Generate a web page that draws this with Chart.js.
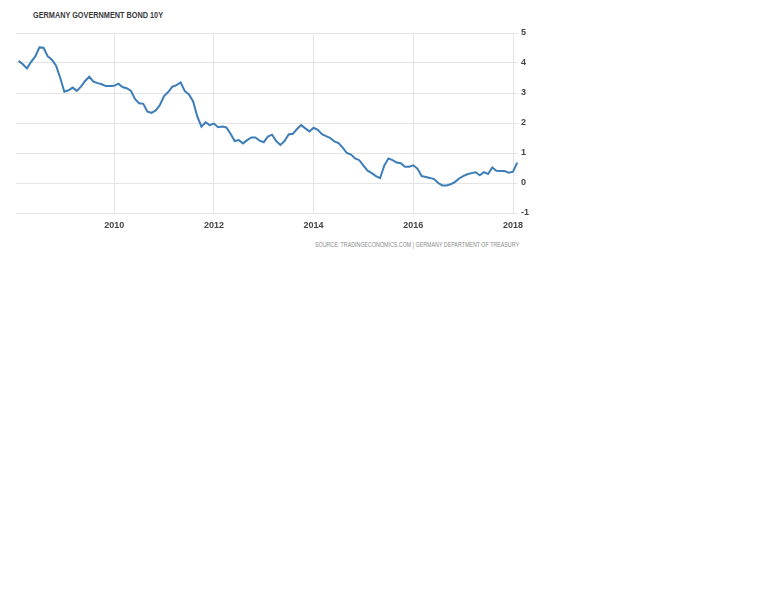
<!DOCTYPE html>
<html>
<head>
<meta charset="utf-8">
<script src="https://cdn.jsdelivr.net/npm/chart.js@4/dist/chart.umd.min.js"></script>
<style>
  html, body { margin: 0; padding: 0; background: #fff; }
  body { width: 768px; height: 614px; position: relative; overflow: hidden; }
  #title {
    position: absolute; left: 33px; top: 9px;
    font: bold 9.5px "Liberation Sans Narrow", "Liberation Sans", Arial, sans-serif;
    color: #3a3a3a; white-space: nowrap; transform-origin: left top;
  }
  #source {
    position: absolute; top: 241px;
    font: 7px "Liberation Sans Narrow", "Liberation Sans", Arial, sans-serif;
    color: #8a8a8a; white-space: nowrap; transform-origin: left top;
  }
  #wrap { position: absolute; left: 0; top: 0; width: 540px; height: 235px; }
</style>
</head>
<body>
<div id="title">GERMANY GOVERNMENT BOND 10Y</div>
<div id="wrap"><canvas id="bond_chart"></canvas></div>
<div id="source">SOURCE: TRADINGECONOMICS.COM | GERMANY DEPARTMENT OF TREASURY</div>
<script>
// monthly readings, Feb 2008 .. Feb 2018
const startYear = 2008;
const startMonth = 2;
const yieldValues = [
  4.07, 3.96, 3.82, 4.04, 4.22, 4.52, 4.51, 4.22, 4.11, 3.91, 3.51, 3.04,
  3.09, 3.18, 3.07, 3.21, 3.40, 3.54, 3.38, 3.33, 3.29, 3.23, 3.23, 3.24,
  3.31, 3.20, 3.16, 3.08, 2.80, 2.66, 2.64, 2.38, 2.34, 2.42, 2.60, 2.90,
  3.03, 3.21, 3.26, 3.35, 3.06, 2.95, 2.72, 2.22, 1.88, 2.02, 1.93, 1.98,
  1.86, 1.88, 1.85, 1.64, 1.40, 1.43, 1.32, 1.43, 1.52, 1.52, 1.41, 1.36,
  1.55, 1.61, 1.40, 1.27, 1.40, 1.62, 1.64, 1.80, 1.93, 1.82, 1.72, 1.84,
  1.77, 1.63, 1.56, 1.50, 1.39, 1.33, 1.18, 1.00, 0.95, 0.82, 0.76, 0.58,
  0.41, 0.33, 0.23, 0.16, 0.58, 0.82, 0.76, 0.68, 0.66, 0.54, 0.54, 0.59,
  0.48, 0.23, 0.20, 0.17, 0.13, 0.00, -0.08, -0.08, -0.04, 0.03, 0.15, 0.23,
  0.29, 0.33, 0.36, 0.26, 0.36, 0.30, 0.52, 0.41, 0.40, 0.40, 0.34, 0.38,
  0.68
];
const xTickYears = [2010, 2012, 2014, 2016, 2018];
const yTickValues = [-1, 0, 1, 2, 3, 4, 5];

// decimal year for each monthly reading
const points = yieldValues.map((v, i) => {
  const m = startMonth - 1 + i;
  return { x: startYear + Math.floor(m / 12) + (m % 12) / 12, y: v };
});

const tickFont = { family: '"Liberation Sans", Arial, sans-serif', size: 9, weight: 'bold' };

new Chart(document.getElementById('bond_chart'), {
  type: 'line',
  data: {
    datasets: [{
      data: points,
      borderColor: '#3d7db8',
      borderWidth: 2,
      pointRadius: 0,
      tension: 0,
      fill: false
    }]
  },
  options: {
    responsive: true,
    maintainAspectRatio: false,
    animation: false,
    layout: { padding: { left: 16, top: 33, right: 0, bottom: 0 } },
    plugins: { legend: { display: false }, tooltip: { enabled: false } },
    scales: {
      x: {
        type: 'linear',
        min: 2008.03,
        max: 2018.1,
        afterBuildTicks: s => { s.ticks = xTickYears.map(v => ({ value: v })); },
        afterFit: s => { s.height = 22; },
        grid: { color: '#e4e4e4', lineWidth: 1, drawTicks: false },
        border: { display: false },
        ticks: {
          padding: 7,
          color: '#444',
          font: tickFont,
          maxRotation: 0,
          callback: v => String(v)
        }
      },
      y: {
        position: 'right',
        min: -1,
        max: 5,
        afterBuildTicks: s => { s.ticks = yTickValues.map(v => ({ value: v })); },
        afterFit: s => { s.width = 22; },
        grid: { color: '#e4e4e4', lineWidth: 1, drawTicks: false },
        border: { display: false },
        ticks: {
          padding: 3,
          color: '#444',
          font: tickFont,
          callback: v => String(v)
        }
      }
    }
  }
});

// squeeze the texts to the widths seen in the picture
function fitWidth(el, left, right) {
  const w = el.getBoundingClientRect().width;
  el.style.left = left + 'px';
  el.style.transform = 'scaleX(' + ((right - left) / w) + ')';
}
fitWidth(document.getElementById('title'), 33, 163);
fitWidth(document.getElementById('source'), 315, 519);
</script>
</body>
</html>
